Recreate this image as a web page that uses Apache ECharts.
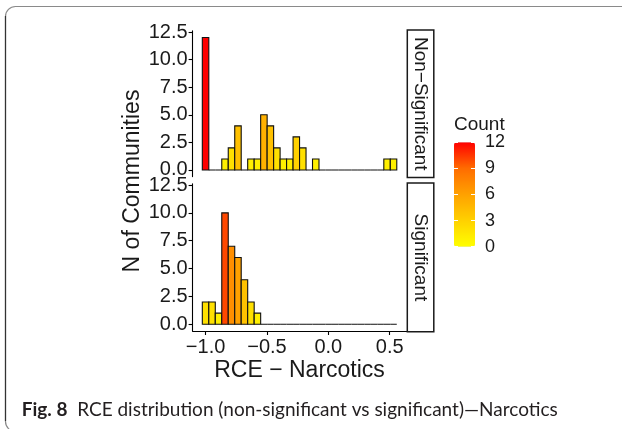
<!DOCTYPE html>
<html>
<head>
<meta charset="utf-8">
<script src="https://cdn.jsdelivr.net/npm/echarts@6/dist/echarts.min.js"></script>
<style>
html,body{margin:0;padding:0;background:#fff;}
#chart{width:622px;height:429px;}
</style>
</head>
<body>
<div id="chart"></div>
<script>
// ---- data ----
const binCenters = [-1.0000, -0.9472, -0.8944, -0.8416, -0.7888, -0.7360, -0.6832, -0.6304, -0.5776, -0.5248,
                    -0.4720, -0.4192, -0.3664, -0.3136, -0.2608, -0.2080, -0.1552, -0.1024, -0.0496, 0.0032,
                     0.0560,  0.1088,  0.1616,  0.2144,  0.2672,  0.3200,  0.3728,  0.4256,  0.4784, 0.5312];
const binWidth = 0.0528;
const countsNonSignificant = [12, 0, 0, 1, 2, 4, 0, 1, 1, 5, 4, 2, 1, 1, 3, 2, 0, 1, 0, 0, 0, 0, 0, 0, 0, 0, 0, 0, 1, 1];
const countsSignificant    = [2, 2, 1, 10, 7, 6, 4, 2, 1, 0, 0, 0, 0, 0, 0, 0, 0, 0, 0, 0, 0, 0, 0, 0, 0, 0, 0, 0, 0, 0];
const panelNames = ['Non\u2212Significant', 'Significant'];
const xTicks = [-1.0, -0.5, 0.0, 0.5];
const yTicks = [0, 2.5, 5, 7.5, 10, 12.5];
const countTicks = [0, 3, 6, 9, 12];
const xTitle = 'RCE \u2212 Narcotics';
const yTitle = 'N of Communities';
const legendTitle = 'Count';
const captionBold = 'Fig. 8';
const captionText = 'RCE distribution (non-significant vs significant)\u2014Narcotics';

// ---- layout ----
const FONT = 'Liberation Sans, Arial, Helvetica, sans-serif';
const CAPFONT = 'Lato, Open Sans, sans-serif';
const TXT = '#1a1a1a';
const P = {left: 192.6, width: 213.9};
const top1 = {top: 30.9, height: 145.7};
const top2 = {top: 183.9, height: 147.1};
const xMin = -1.1056, xMax = 0.6368;

function fmtX(v) { return v < 0 ? '\u2212' + Math.abs(v).toFixed(1) : v.toFixed(1); }

function renderBar(params, api) {
  const x = api.value(0), c = api.value(1);
  const p0 = api.coord([x - binWidth / 2, c]);
  const p1 = api.coord([x + binWidth / 2, 0]);
  return {
    type: 'rect',
    shape: {x: p0[0], y: p0[1], width: p1[0] - p0[0], height: p1[1] - p0[1]},
    style: {fill: api.visual('color'), stroke: '#111', lineWidth: 1.1}
  };
}

function yAxisFor(gi) {
  return {
    type: 'value', gridIndex: gi, min: -0.6, max: 12.6,
    axisLine: {show: true, onZero: false, lineStyle: {color: '#000', width: 1.1}},
    axisTick: {show: true, length: 4, customValues: yTicks, lineStyle: {color: '#000', width: 1.1}},
    axisLabel: {customValues: yTicks, formatter: v => v.toFixed(1), fontSize: 20, fontFamily: FONT, color: TXT, margin: 5},
    splitLine: {show: false}
  };
}

const chart = echarts.init(document.getElementById('chart'), null, {renderer: 'canvas'});
const option = {
  backgroundColor: '#fff',
  animation: false,
  title: {
    text: legendTitle, left: 454, top: 115, padding: 0,
    textStyle: {fontSize: 19, fontWeight: 'normal', fontFamily: FONT, color: TXT}
  },
  grid: [
    {left: P.left, width: P.width, top: top1.top, height: top1.height},
    {left: P.left, width: P.width, top: top2.top, height: top2.height},
    {left: 454, width: 21, top: 142.3, height: 104.4}
  ],
  xAxis: [
    {type: 'value', gridIndex: 0, min: xMin, max: xMax, show: false},
    {
      type: 'value', gridIndex: 1, min: xMin, max: xMax,
      axisLine: {show: true, onZero: false, lineStyle: {color: '#000', width: 1.1}},
      axisTick: {show: true, length: 4, customValues: xTicks, lineStyle: {color: '#000', width: 1.1}},
      axisLabel: {customValues: xTicks, formatter: fmtX, fontSize: 20, fontFamily: FONT, color: TXT, margin: 6},
      splitLine: {show: false},
      name: xTitle, nameLocation: 'middle', nameGap: 28,
      nameTextStyle: {fontSize: 23, fontFamily: FONT, color: TXT}
    },
    {type: 'value', gridIndex: 2, show: false, min: 0, max: 1}
  ],
  yAxis: [
    yAxisFor(0),
    yAxisFor(1),
    {
      type: 'value', gridIndex: 2, min: 0, max: 12, interval: 3, position: 'right', z: 10,
      axisLine: {show: false, onZero: false},
      axisTick: {show: true, inside: true, length: 4, lineStyle: {color: '#fff', width: 1}},
      axisLabel: {fontSize: 18, fontFamily: FONT, color: TXT, margin: 10},
      splitLine: {show: false}
    },
    {
      type: 'value', gridIndex: 2, min: 0, max: 12, interval: 3, position: 'left', z: 10,
      axisLine: {show: false, onZero: false},
      axisTick: {show: true, inside: true, length: 4, lineStyle: {color: '#fff', width: 1}},
      axisLabel: {show: false},
      splitLine: {show: false}
    }
  ],
  visualMap: {
    type: 'continuous', min: 0, max: 12, dimension: 1, seriesIndex: [0, 1],
    inRange: {color: ['#FFFF00', '#FFD100', '#FFA100', '#FF6C00', '#FF0000']},
    calculable: false, left: 454, top: 142.3, itemWidth: 21, itemHeight: 104.4, padding: 0,
    orient: 'vertical', hoverLink: false
  },
  series: [
    {
      type: 'custom', name: panelNames[0], xAxisIndex: 0, yAxisIndex: 0,
      renderItem: renderBar, encode: {x: 0, y: 1},
      data: binCenters.map((b, i) => [b, countsNonSignificant[i]])
    },
    {
      type: 'custom', name: panelNames[1], xAxisIndex: 1, yAxisIndex: 1,
      renderItem: renderBar, encode: {x: 0, y: 1},
      data: binCenters.map((b, i) => [b, countsSignificant[i]])
    }
  ],
  graphic: [
    // figure frame
    {type: 'rect', shape: {x: 5.5, y: 6.5, width: 700, height: 425, r: 10}, style: {fill: 'none', stroke: '#8a8a8a', lineWidth: 1.2}, silent: true},
    {type: 'line', shape: {x1: 5.5, y1: 16, x2: 5.5, y2: 421}, style: {stroke: '#333', lineWidth: 1.2}, silent: true},
    // y title
    {type: 'text', x: 133, y: 181, rotation: Math.PI / 2,
      style: {text: yTitle, fontSize: 23, fontFamily: FONT, fill: TXT, align: 'center', verticalAlign: 'middle'}},
    // strips
    {type: 'rect', shape: {x: 407.3, y: top1.top - 0.8, width: 26.5, height: top1.height + 1.6}, style: {fill: '#fff', stroke: '#1a1a1a', lineWidth: 1.5}},
    {type: 'text', x: 420.5, y: top1.top + top1.height / 2, rotation: -Math.PI / 2,
      style: {text: panelNames[0], fontSize: 19, fontFamily: FONT, fill: TXT, align: 'center', verticalAlign: 'middle'}},
    {type: 'rect', shape: {x: 407.3, y: top2.top - 0.8, width: 26.5, height: top2.height + 1.6}, style: {fill: '#fff', stroke: '#1a1a1a', lineWidth: 1.5}},
    {type: 'text', x: 420.5, y: top2.top + top2.height / 2, rotation: -Math.PI / 2,
      style: {text: panelNames[1], fontSize: 19, fontFamily: FONT, fill: TXT, align: 'center', verticalAlign: 'middle'}},
    // caption
    {type: 'text', x: 21.7, y: 410,
      style: {
        text: '{b|' + captionBold + '}  ' + captionText,
        fontSize: 19, fontFamily: CAPFONT, fill: '#231f20', verticalAlign: 'middle',
        rich: {b: {fontWeight: 'bold', fontSize: 19, fontFamily: CAPFONT, fill: '#231f20'}}
      }}
  ]
};
chart.setOption(option);
</script>
</body>
</html>
